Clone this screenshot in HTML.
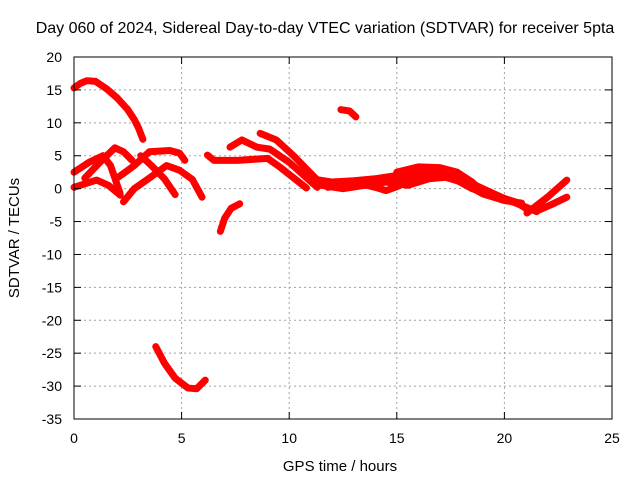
<!DOCTYPE html>
<html><head><meta charset="utf-8"><style>
body{margin:0;background:#fff;}
svg{display:block;font-family:"Liberation Sans",sans-serif;}
</style></head><body>
<svg id="chart" width="640" height="480" viewBox="0 0 640 480" xmlns="http://www.w3.org/2000/svg">
<rect width="640" height="480" fill="#fff"/>
<text x="325" y="33" font-size="16" text-anchor="middle">Day 060 of 2024, Sidereal Day-to-day VTEC variation (SDTVAR) for receiver 5pta</text>
<g id="grid"></g>
<g id="series"></g>
<g id="axes"></g>
<text x="340" y="471" font-size="15" text-anchor="middle">GPS time / hours</text>
<text transform="translate(19,238) rotate(-90)" font-size="15" text-anchor="middle">SDTVAR / TECUs</text>
</svg>
<script>
const xTicks=[0,5,10,15,20,25];
const yTicks=[20,15,10,5,0,-5,-10,-15,-20,-25,-30,-35];
const trackA=[[0,15.3],[0.3,16],[0.6,16.4],[1,16.3],[1.5,15.2],[2,13.8],[2.5,12],[2.8,10.5],[3,9.2],[3.2,7.5]];
const trackB=[[0,2.5],[0.7,4],[1.35,5],[1.7,3.5],[2.14,-0.7]];
const trackC=[[0.5,1.6],[1.2,4],[1.9,6.2],[2.3,5.6],[2.7,4.3]];
const trackD=[[0,0.2],[1.05,1.3],[1.6,0.5],[2.15,-1]];
const trackE=[[2.3,-2],[2.8,0],[3.5,1.6],[4.3,3.5],[4.9,2.8],[5.5,1.4],[5.95,-1.3]];
const trackF=[[2,1.6],[2.8,3.5],[3.5,5.6],[4.45,5.8],[4.9,5.4],[5.15,4.3]];
const trackG=[[3.1,5],[3.6,3.5],[4.2,1.5],[4.7,-0.9]];
const trackH=[[3.8,-24],[4.2,-26.5],[4.7,-28.8],[5.3,-30.3],[5.7,-30.4],[6.1,-29.1]];
const trackI=[[6.8,-6.5],[7,-4.5],[7.3,-3],[7.7,-2.3]];
const trackJ=[[6.2,5.1],[6.5,4.3],[7.6,4.3],[9,4.6],[9.6,3.2],[10.8,0.1]];
const trackK=[[7.25,6.3],[7.8,7.4],[8.5,6.3],[9.1,6],[10,4],[11.3,0.2]];
const trackL=[[8.65,8.4],[9.4,7.4],[10.2,5],[10.8,3],[11.4,1]];
const trackM=[[12.4,12],[12.8,11.8],[13.1,10.9]];
const trackN=[[11,1.5],[12,1],[13,1.2],[14,1.5],[15,2],[16,2.8],[17,2.5],[18,1.5],[19,0],[20,-1.5],[21,-2.8],[21.5,-3.5]];
const trackO=[[11.5,0.5],[12.5,0],[13.5,0.5],[14.5,1],[15.5,0.5],[16.5,1.5],[17.5,1.8],[18.5,0],[19.5,-1],[20.5,-2],[21,-3]];
const trackP=[[15,2.5],[16,3.3],[17,3.2],[17.8,2.5],[18.5,1],[19,-0.5],[20,-1.5]];
const trackQ=[[11.8,0.2],[13,1],[14,0.2],[14.5,-0.3],[15,0.3],[16,1.8]];
const trackR=[[21.05,-3.7],[22,-1.3],[22.9,1.3]];
const trackS=[[21.5,-3.4],[22.2,-2.4],[22.9,-1.3]];
const trackT=[[12,0.5],[13.5,1.3],[15,1.2],[16,2.2],[17,2],[18,1],[19,-0.8],[20,-1.8],[20.8,-2.2]];
const tracks=[trackA,trackB,trackC,trackD,trackE,trackF,trackG,trackH,trackI,trackJ,trackK,trackL,trackM,trackN,trackO,trackP,trackQ,trackR,trackS,trackT];
const X0=74,X1=612,Y0=57,Y1=419;
function sx(v){return X0+(v-0)/(25-0)*(X1-X0);}
function sy(v){return Y0+(20-v)/(20+35)*(Y1-Y0);}
const NS="http://www.w3.org/2000/svg";
function mk(t,a,p){const e=document.createElementNS(NS,t);for(const k in a)e.setAttribute(k,a[k]);p.appendChild(e);return e;}
const grid=document.getElementById('grid'),axes=document.getElementById('axes'),ser=document.getElementById('series');
xTicks.forEach(t=>{
 const x=sx(t);
 if(t>0&&t<25){const g=mk('line',{x1:x,x2:x,y1:Y0,y2:Y1,stroke:'#a0a0a0','stroke-dasharray':'2,3'},grid);
 
 }
 mk('line',{x1:x,x2:x,y1:Y1,y2:Y1-7,stroke:'#000'},axes);
 mk('line',{x1:x,x2:x,y1:Y0,y2:Y0+7,stroke:'#000'},axes);
 const l=mk('text',{x:x,y:443,'font-size':14,'text-anchor':'middle'},axes);l.textContent=t;
 
 
});
yTicks.forEach(t=>{
 const y=sy(t);
 if(t<20&&t>-35){const g=mk('line',{x1:X0,x2:X1,y1:y,y2:y,stroke:'#a0a0a0','stroke-dasharray':'2,3'},grid);
 
 }
 mk('line',{x1:X0,x2:X0+7,y1:y,y2:y,stroke:'#000'},axes);
 mk('line',{x1:X1,x2:X1-7,y1:y,y2:y,stroke:'#000'},axes);
 const l=mk('text',{x:62,y:y+5,'font-size':14,'text-anchor':'end'},axes);l.textContent=t;
 
 
});
const fr=mk('rect',{x:X0,y:Y0,width:X1-X0,height:Y1-Y0,fill:'none',stroke:'#000'},axes);


tracks.forEach(tr=>{
 const p=mk('polyline',{points:tr.map(d=>sx(d[0])+','+sy(d[1])).join(' '),fill:'none',stroke:'#f00','stroke-width':7,'stroke-linejoin':'round','stroke-linecap':'round'},ser);
 
 
});
</script>
</body></html>
